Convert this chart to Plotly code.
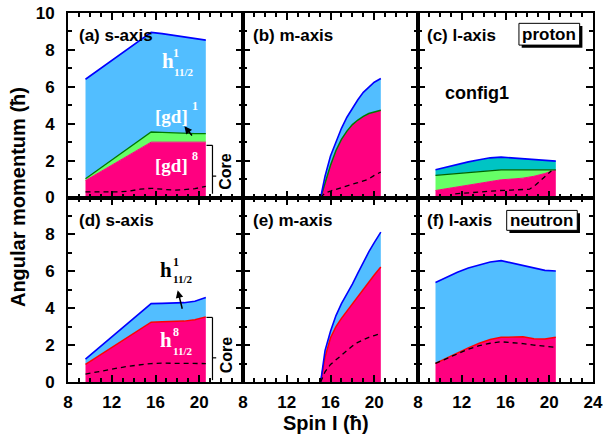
import plotly.graph_objects as go
from plotly.subplots import make_subplots

# ---------------- data ----------------
spin = [9.6, 10.6, 11.6, 12.6, 13.6, 14.6, 15.6, 16.6, 17.6, 18.6, 19.6, 20.6]
spin_m = [15.1, 15.5, 16.0, 16.5, 17.0, 17.5, 18.0, 18.5, 19.0, 19.5, 20.0, 20.6]

# (a) proton s-axis
a_core = [0.92, 1.27, 1.62, 1.97, 2.32, 2.66, 3.0, 3.0, 3.0, 3.0, 3.0, 3.0]
a_gd1 = [1.02, 1.44, 1.86, 2.29, 2.71, 3.13, 3.55, 3.53, 3.5, 3.48, 3.46, 3.46]
a_h = [6.41, 6.84, 7.26, 7.68, 8.1, 8.52, 8.95, 8.88, 8.8, 8.7, 8.6, 8.53]
a_dash = [0.3, 0.3, 0.32, 0.3, 0.35, 0.45, 0.5, 0.45, 0.4, 0.42, 0.48, 0.6]

# (b) proton m-axis
b_core = [0, 0.8, 1.75, 2.55, 3.15, 3.6, 3.95, 4.2, 4.4, 4.55, 4.65, 4.73]
b_h = [0, 1.15, 2.25, 3.05, 3.75, 4.35, 4.85, 5.3, 5.7, 6.0, 6.25, 6.45]
b_dash = [0, 0.25, 0.35, 0.45, 0.55, 0.65, 0.72, 0.8, 0.88, 1.0, 1.2, 1.38]

# (c) proton l-axis
c_core = [0.38, 0.47, 0.57, 0.67, 0.77, 0.87, 0.96, 1.0, 1.05, 1.15, 1.3, 1.5]
c_gd = [1.2, 1.25, 1.3, 1.36, 1.41, 1.46, 1.5, 1.5, 1.5, 1.5, 1.5, 1.5]
c_h = [1.5, 1.65, 1.8, 1.93, 2.05, 2.15, 2.19, 2.15, 2.1, 2.05, 2.0, 1.97]
c_dash_x = [11.4, 12.5, 13.5, 14.5, 15.5, 16.5, 17.5, 18.2, 18.8, 19.5, 20.2]
c_dash = [0.2, 0.25, 0.3, 0.35, 0.38, 0.4, 0.42, 0.45, 0.7, 1.05, 1.45]

# (d) neutron s-axis
d_core = [0.96, 1.34, 1.72, 2.1, 2.48, 2.86, 3.24, 3.26, 3.28, 3.3, 3.38, 3.53]
d_h = [1.24, 1.74, 2.24, 2.75, 3.25, 3.75, 4.25, 4.26, 4.28, 4.3, 4.38, 4.58]
d_dash = [0.43, 0.55, 0.66, 0.76, 0.86, 0.95, 1.0, 1.02, 1.02, 1.01, 1.0, 1.0]

# (e) neutron m-axis
e_core = [0, 1.35, 2.4, 3.0, 3.45, 3.85, 4.2, 4.6, 5.0, 5.4, 5.8, 6.23]
e_h = [0, 1.7, 2.75, 3.6, 4.25, 4.75, 5.3, 5.9, 6.5, 7.05, 7.55, 8.12]
e_dash = [0, 0.55, 0.95, 1.2, 1.45, 1.72, 1.95, 2.15, 2.3, 2.42, 2.52, 2.63]

# (f) neutron l-axis
f_core = [1.01, 1.3, 1.6, 1.85, 2.1, 2.3, 2.42, 2.45, 2.45, 2.35, 2.33, 2.42]
f_h = [5.39, 5.68, 5.95, 6.18, 6.35, 6.5, 6.58, 6.45, 6.3, 6.15, 6.05, 6.02]
f_dash = [1.01, 1.28, 1.55, 1.78, 1.97, 2.1, 2.18, 2.15, 2.08, 2.0, 1.93, 1.88]

panel_labels = ["(a) s-axis", "(b) m-axis", "(c) l-axis",
                "(d) s-axis", "(e) m-axis", "(f) l-axis"]
x_ticks = [8, 12, 16, 20, 24]
y_ticks = [0, 2, 4, 6, 8, 10]

# ---------------- styles ----------------
PINK = "#FF0080"
BLUEF = "#52BEFF"
GREEN = "#66FF66"
TEAL = "#00C4C4"
DKGREEN = "#007A00"
BLUE = "#0000FF"
RED = "#FF0000"
SANS = "Liberation Sans, Arial, sans-serif"
SERIF = "Liberation Serif, Times New Roman, serif"

W, H = 604, 438
ML, MR, MT, MB = 68, 10.5, 13, 56
PW, PH = W - ML - MR, H - MT - MB

fig = make_subplots(rows=2, cols=3, horizontal_spacing=0, vertical_spacing=0)


def band(x, y, row, col, fillc, linec, lw, fill):
    fig.add_trace(go.Scatter(x=x, y=y, mode="lines", fill=fill, fillcolor=fillc,
                             line=dict(color=linec, width=lw), showlegend=False,
                             hoverinfo="skip"), row=row, col=col)


def dash(x, y, row, col):
    fig.add_trace(go.Scatter(x=x, y=y, mode="lines",
                             line=dict(color="black", width=1.3, dash="5px,4px"),
                             showlegend=False, hoverinfo="skip"), row=row, col=col)


# (a)
band(spin, a_core, 1, 1, PINK, PINK, 1, "tozeroy")
band(spin, a_gd1, 1, 1, GREEN, DKGREEN, 1.3, "tonexty")
band(spin, a_h, 1, 1, BLUEF, BLUE, 1.6, "tonexty")
dash(spin, a_dash, 1, 1)
# (b)
band(spin_m, b_core, 1, 2, PINK, DKGREEN, 1.5, "tozeroy")
band(spin_m, b_h, 1, 2, BLUEF, BLUE, 1.6, "tonexty")
dash(spin_m, b_dash, 1, 2)
# (c)
band(spin, c_core, 1, 3, PINK, PINK, 1, "tozeroy")
band(spin, c_gd, 1, 3, GREEN, "#006400", 1.3, "tonexty")
band(spin, c_h, 1, 3, TEAL, BLUE, 1.6, "tonexty")
dash(c_dash_x, c_dash, 1, 3)
# (d)
band(spin, d_core, 2, 1, PINK, RED, 1.5, "tozeroy")
band(spin, d_h, 2, 1, BLUEF, BLUE, 1.6, "tonexty")
dash(spin, d_dash, 2, 1)
# (e)
band(spin_m, e_core, 2, 2, PINK, RED, 1.5, "tozeroy")
band(spin_m, e_h, 2, 2, BLUEF, BLUE, 1.6, "tonexty")
dash(spin_m, e_dash, 2, 2)
# (f)
band(spin, f_core, 2, 3, PINK, RED, 1.5, "tozeroy")
band(spin, f_h, 2, 3, BLUEF, BLUE, 1.6, "tonexty")
dash(spin, f_dash, 2, 3)

# ---------------- axes ----------------
minor = dict(ticks="inside", ticklen=4, tickwidth=1.5, tickcolor="black",
             tickmode="linear", dtick=1, showgrid=False)
for r in (1, 2):
    for c in (1, 2, 3):
        xt = [str(v) for v in x_ticks] if c == 3 else [str(v) for v in x_ticks[:-1]] + [""]
        fig.update_xaxes(range=[8, 24], tickmode="array", tickvals=x_ticks, ticktext=xt,
                         showticklabels=(r == 2), ticks="inside", ticklen=7, tickwidth=2,
                         tickcolor="black", showline=True, linewidth=2, linecolor="black",
                         mirror="ticks", showgrid=False, zeroline=False, automargin=False,
                         ticklabeloverflow="allow",
                         minor=dict(minor, tick0=8),
                         tickfont=dict(family=SANS, size=17, color="black", weight="bold"),
                         ticklabelstandoff=4, row=r, col=c)
        yt = [str(v) for v in y_ticks] if r == 1 else [str(v) for v in y_ticks[:-1]] + [""]
        fig.update_yaxes(range=[0, 10], tickmode="array", tickvals=y_ticks, ticktext=yt,
                         showticklabels=(c == 1), ticks="inside", ticklen=7, tickwidth=2,
                         tickcolor="black", showline=True, linewidth=2, linecolor="black",
                         mirror="ticks", showgrid=False, zeroline=False, automargin=False,
                         ticklabeloverflow="allow",
                         minor=dict(minor, tick0=0),
                         tickfont=dict(family=SANS, size=17, color="black", weight="bold"),
                         ticklabelstandoff=8, row=r, col=c)

ann = []
shapes = []
refs = [("x", "y"), ("x2", "y2"), ("x3", "y3"), ("x4", "y4"), ("x5", "y5"), ("x6", "y6")]
label_pos = [(8.79, 8.8), (8.7, 8.8), (8.64, 8.8), (8.79, 8.76), (8.7, 8.76), (8.64, 8.76)]
for (xr, yr), lab, (lx, ly) in zip(refs, panel_labels, label_pos):
    ann.append(dict(xref=xr, yref=yr, x=lx, y=ly, text=lab, showarrow=False,
                    xanchor="left", yanchor="middle",
                    font=dict(family=SANS, size=17, color="black", weight="bold")))


def txt(xr, yr, x, y, t, size, color, family=SERIF, weight="bold"):
    ann.append(dict(xref=xr, yref=yr, x=x, y=y, text=t, showarrow=False,
                    xanchor="center", yanchor="middle",
                    font=dict(family=family, size=size, color=color, weight=weight)))


# (a) annotations
txt("x", "y", 17.12, 7.41, "h", 21, "white")
txt("x", "y", 17.88, 7.85, "1", 12, "white")
txt("x", "y", 18.57, 6.81, "11/2", 11, "white")
txt("x", "y", 17.43, 4.40, "[gd]", 19, "white")
txt("x", "y", 19.61, 4.96, "1", 12, "white")
txt("x", "y", 17.43, 1.74, "[gd]", 19, "white")
txt("x", "y", 19.61, 2.24, "8", 12, "white")
ann.append(dict(xref="x", yref="y", axref="x", ayref="y", x=18.64, y=3.86,
                ax=19.45, ay=3.28, text="", showarrow=True, arrowhead=2,
                arrowsize=1, arrowwidth=1.5, arrowcolor="black"))
# (d) annotations
txt("x4", "y4", 16.97, 6.05, "h", 21, "black")
txt("x4", "y4", 17.88, 6.5, "1", 12, "black")
txt("x4", "y4", 18.48, 5.6, "11/2", 11, "black")
ann.append(dict(xref="x4", yref="y4", axref="x4", ayref="y4", x=18.03, y=4.97,
                ax=18.48, ay=3.89, text="", showarrow=True, arrowhead=2,
                arrowsize=1, arrowwidth=1.5, arrowcolor="black"))
txt("x4", "y4", 16.97, 2.27, "h", 21, "white")
txt("x4", "y4", 17.88, 2.72, "8", 12, "white")
txt("x4", "y4", 18.48, 1.69, "11/2", 11, "white")

# Core brackets
for xr, yr, top, mid, bot, cy in [("x", "y", 2.83, 1.16, 0.2, 1.4),
                                   ("x4", "y4", 3.5, 1.31, 0.1, 1.45)]:
    ln = dict(color="black", width=1.2)
    shapes.append(dict(type="line", xref=xr, yref=yr, x0=20.66, x1=21.21, y0=top, y1=top, line=ln))
    shapes.append(dict(type="line", xref=xr, yref=yr, x0=21.21, x1=21.21, y0=top, y1=bot, line=ln))
    shapes.append(dict(type="line", xref=xr, yref=yr, x0=21.21, x1=21.55, y0=mid, y1=mid, line=ln))
    ann.append(dict(xref=xr, yref=yr, x=22.45, y=cy, text="Core", textangle=-90,
                    showarrow=False, xanchor="center", yanchor="middle",
                    font=dict(family=SANS, size=16, color="black", weight="bold")))

# proton / neutron boxes
for xr, yr, x0, x1, y0, y1, t, dx, dy in [("x3", "y3", 17.23, 22.78, 8.26, 9.44, "proton", 0.25, 0.15),
                                          ("x6", "y6", 16.11, 22.56, 8.22, 9.3, "neutron", 0.25, 0.15)]:
    shapes.append(dict(type="rect", xref=xr, yref=yr, x0=x0 + dx, x1=x1 + dx, y0=y0 - dy, y1=y1 - dy,
                       fillcolor="black", line=dict(width=0)))
    shapes.append(dict(type="rect", xref=xr, yref=yr, x0=x0, x1=x1, y0=y0, y1=y1,
                       fillcolor="white", line=dict(color="black", width=1)))
    txt(xr, yr, (x0 + x1) / 2, (y0 + y1) / 2, t, 17, "black", family=SANS)

txt("x3", "y3", 13.42, 5.65, "config1", 18, "black", family=SANS)

# axis titles (positions in page pixels converted to paper coords)
ann.append(dict(xref="paper", yref="paper", x=(18 - 68) / PW, y=(382 - 197) / PH,
                text="Angular momentum (ħ)", textangle=-90, showarrow=False,
                xanchor="center", yanchor="middle",
                font=dict(family=SANS, size=20, color="black", weight="bold")))
ann.append(dict(xref="paper", yref="paper", x=(326.5 - 68) / PW, y=-(422.7 - 382) / PH,
                text="Spin I (ħ)", showarrow=False, xanchor="center", yanchor="middle",
                font=dict(family=SANS, size=20, color="black", weight="bold")))

fig.update_layout(width=W, height=H, margin=dict(l=ML, r=MR, t=MT, b=MB, autoexpand=False),
                  plot_bgcolor="white", paper_bgcolor="white",
                  annotations=ann, shapes=shapes, showlegend=False)

# remove the page's default body margin so the figure sits at the window's corner
fig.write_html("out.html", config={"displayModeBar": False},
               post_script="document.body.style.margin='0px';"
                           "document.body.style.overflow='hidden';")
